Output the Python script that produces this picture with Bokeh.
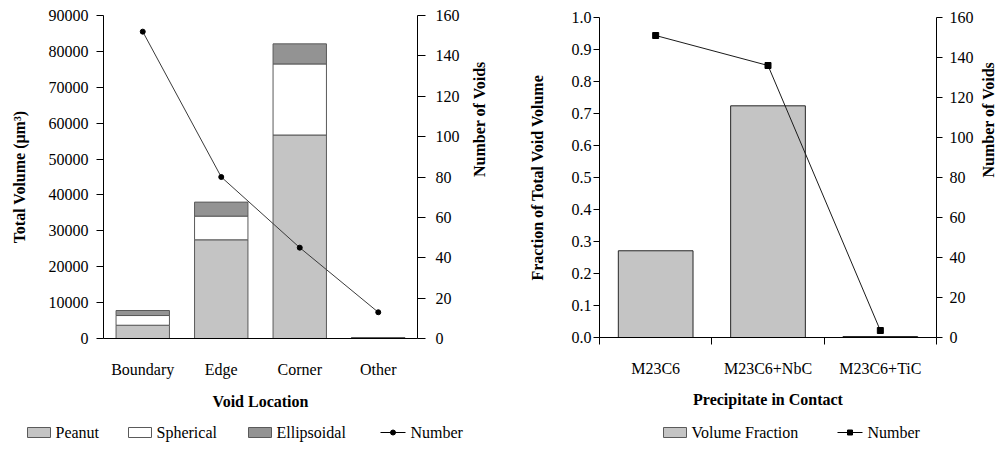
import math
from bokeh.plotting import figure
from bokeh.layouts import row, column
from bokeh.models import (Range1d, LinearAxis, FixedTicker, NumeralTickFormatter,
                          FactorRange, ColumnDataSource)
from bokeh.core.properties import value
from bokeh.embed import file_html
from bokeh.resources import INLINE

# ---------------- data ----------------
locations = ["Boundary", "Edge", "Corner", "Other"]
peanut = [3700, 27500, 56700, 120]
spherical = [2700, 6600, 19800, 40]
ellipsoidal = [1400, 3900, 5600, 100]
void_counts = [152, 80, 45, 13]

precipitates = ["M23C6", "M23C6+NbC", "M23C6+TiC"]
volume_fraction = [0.271, 0.724, 0.003]
precip_counts = [151, 136, 3.5]

vol_ticks = [0, 10000, 20000, 30000, 40000, 50000, 60000, 70000, 80000, 90000]
frac_ticks = [0.0, 0.1, 0.2, 0.3, 0.4, 0.5, 0.6, 0.7, 0.8, 0.9, 1.0]
count_ticks = [0, 20, 40, 60, 80, 100, 120, 140, 160]

FONT = "Liberation Serif"
FS = "16px"
PEANUT_C = "#c4c4c4"
SPHER_C = "#ffffff"
ELLIP_C = "#939393"
HAS_ORIENT = "axis_label_orientation" in LinearAxis.properties()


def style_axis(ax):
    ax.axis_line_color = "#000000"
    ax.axis_line_width = 1
    ax.major_tick_line_color = "#000000"
    ax.major_tick_in = 0
    ax.major_tick_out = 7
    ax.minor_tick_line_color = None
    ax.major_label_text_font = FONT
    ax.major_label_text_font_size = FS
    ax.major_label_text_color = "#000000"
    ax.axis_label_text_font = FONT
    ax.axis_label_text_font_size = FS
    ax.axis_label_text_font_style = "bold"
    ax.axis_label_text_color = "#000000"


def base_fig(width, height, x_range, y_range, bl, br, bt, bb):
    p = figure(width=width, height=height, x_range=x_range, y_range=y_range,
               output_backend="svg", toolbar_location=None,
               min_border_left=bl, min_border_right=br,
               min_border_top=bt, min_border_bottom=bb)
    p.xgrid.visible = False
    p.ygrid.visible = False
    p.outline_line_color = None
    p.background_fill_color = "white"
    p.border_fill_color = "white"
    return p


def legend_fig(width):
    lf = figure(width=width, height=29, x_range=Range1d(0, width), y_range=Range1d(0, 29),
                output_backend="svg", toolbar_location=None,
                x_axis_type=None, y_axis_type=None,
                min_border_left=0, min_border_right=0, min_border_top=0, min_border_bottom=0)
    if "frame_align" in lf.properties():
        lf.frame_align = False
    lf.xgrid.visible = False
    lf.ygrid.visible = False
    lf.outline_line_color = None
    lf.border_fill_color = "white"
    return lf


LY = 17


def legend_box(lf, x0, fill, label):
    lf.rect(x=[x0 + 11.5], y=[LY], width=23, height=10, fill_color=fill,
            line_color="#5a5a5a", line_width=1)
    lf.text(x=[x0 + 28], y=[LY], text=[label], text_font=value(FONT),
            text_font_size=value(FS), text_baseline="middle", text_align="left",
            text_color="#000000")


def legend_line(lf, x0, marker, label):
    lf.line(x=[x0, x0 + 25], y=[LY, LY], line_color="#000000", line_width=1)
    lf.scatter(x=[x0 + 12.5], y=[LY], marker=marker, size=5,
               fill_color="#000000", line_color="#000000")
    lf.text(x=[x0 + 30], y=[LY], text=[label], text_font=value(FONT),
            text_font_size=value(FS), text_baseline="middle", text_align="left",
            text_color="#000000")


# ---------------- left chart ----------------
src1 = ColumnDataSource(dict(loc=locations, peanut=peanut, spherical=spherical,
                             ellipsoidal=ellipsoidal, count=void_counts))
p1 = base_fig(500, 420, FactorRange(*locations), Range1d(0, 90000), 103, 83, 15, 82)
p1.extra_y_ranges = {"n": Range1d(0, 160)}

p1.vbar_stack(["peanut", "spherical", "ellipsoidal"], x="loc", width=0.68,
              source=src1, fill_color=[PEANUT_C, SPHER_C, ELLIP_C],
              line_color="#5a5a5a", line_width=1)
p1.line(x="loc", y="count", source=src1, y_range_name="n",
        line_color="#3a3a3a", line_width=1)
p1.scatter(x="loc", y="count", source=src1, y_range_name="n",
           marker="circle", size=5, fill_color="#000000", line_color="#000000")

ax = p1.xaxis[0]
style_axis(ax)
ax.major_tick_out = 0
ax.major_tick_line_color = None
ax.major_label_standoff = 22
ax.axis_label = "Void Location"
ax.axis_label_standoff = 12

ay = p1.yaxis[0]
style_axis(ay)
ay.ticker = FixedTicker(ticks=vol_ticks)
ay.formatter = NumeralTickFormatter(format="0")
ay.major_label_standoff = 8
ay.axis_label = "Total Volume (μm³)"
ay.axis_label_standoff = 18

ar = LinearAxis(y_range_name="n", ticker=FixedTicker(ticks=count_ticks))
style_axis(ar)
ar.major_tick_out = 8
ar.major_label_standoff = 10
ar.axis_label = "Number of Voids"
ar.axis_label_standoff = 17
if HAS_ORIENT:
    ar.axis_label_orientation = math.pi / 2
p1.add_layout(ar, "right")

lf1 = legend_fig(500)
legend_box(lf1, 27, PEANUT_C, "Peanut")
legend_box(lf1, 128, SPHER_C, "Spherical")
legend_box(lf1, 248, ELLIP_C, "Ellipsoidal")
legend_line(lf1, 380, "circle", "Number")

# ---------------- right chart ----------------
xpos = [i + 0.5 for i in range(len(precipitates))]
src2 = ColumnDataSource(dict(x=xpos, frac=volume_fraction, count=precip_counts))
p2 = base_fig(508, 420, Range1d(0, len(precipitates)), Range1d(0, 1.0), 99, 67, 17, 83)
p2.extra_y_ranges = {"n": Range1d(0, 160)}

p2.vbar(x="x", top="frac", width=0.665, source=src2,
        fill_color=PEANUT_C, line_color="#262626", line_width=1)
p2.line(x="x", y="count", source=src2, y_range_name="n",
        line_color="#1a1a1a", line_width=1)
p2.scatter(x="x", y="count", source=src2, y_range_name="n",
           marker="square", size=6, fill_color="#000000", line_color="#000000")

bx = p2.xaxis[0]
style_axis(bx)
bx.ticker = FixedTicker(ticks=xpos, minor_ticks=list(range(len(precipitates) + 1)))
bx.major_label_overrides = {xp: name for xp, name in zip(xpos, precipitates)}
bx.major_tick_line_color = None
bx.major_tick_out = 0
bx.minor_tick_line_color = "#000000"
bx.minor_tick_in = 0
bx.minor_tick_out = 7
bx.major_label_standoff = 15
bx.axis_label = "Precipitate in Contact"
bx.axis_label_standoff = 11

by = p2.yaxis[0]
style_axis(by)
by.ticker = FixedTicker(ticks=frac_ticks)
by.formatter = NumeralTickFormatter(format="0.0")
by.major_tick_out = 6
by.major_label_standoff = 2
by.axis_label = "Fraction of Total Void Volume"
by.axis_label_standoff = 23

br = LinearAxis(y_range_name="n", ticker=FixedTicker(ticks=count_ticks))
style_axis(br)
br.major_tick_out = 6
br.major_label_standoff = 7
br.axis_label = "Number of Voids"
br.axis_label_standoff = 12
if HAS_ORIENT:
    br.axis_label_orientation = math.pi / 2
p2.add_layout(br, "right")

lf2 = legend_fig(508)
legend_box(lf2, 163, PEANUT_C, "Volume Fraction")
legend_line(lf2, 337, "square", "Number")

layout = row(column(p1, lf1, spacing=0), column(p2, lf2, spacing=0), spacing=0)
open("out.html", "w").write(file_html(layout, INLINE))
